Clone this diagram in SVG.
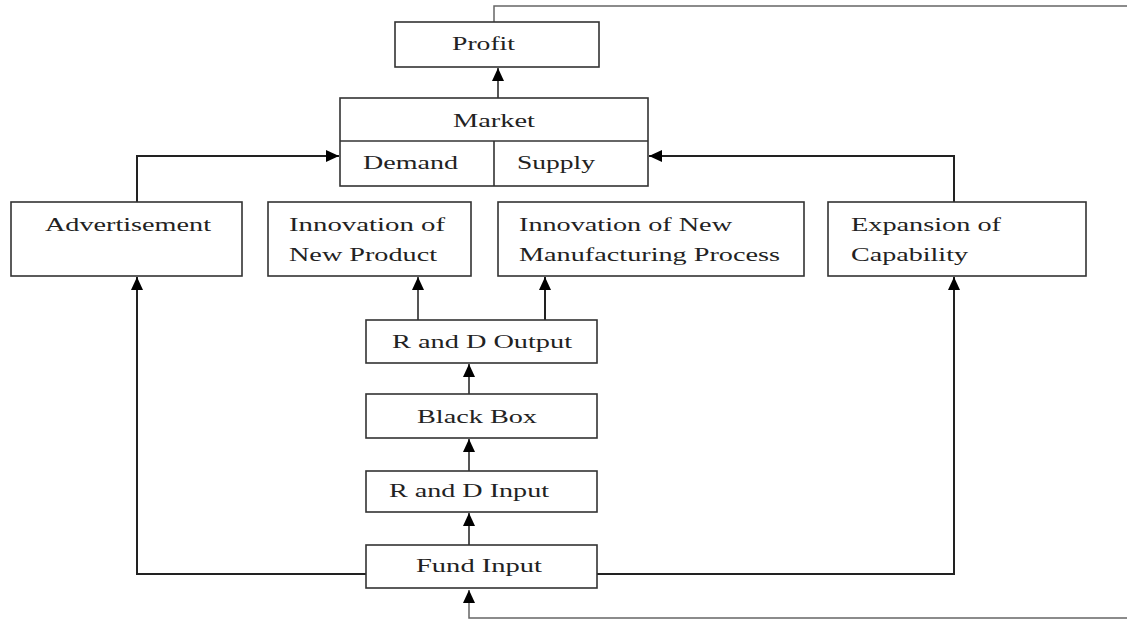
<svg xmlns="http://www.w3.org/2000/svg" width="1127" height="619" viewBox="0 0 1127 619">
<style>
.box{fill:#fff;stroke:#333;stroke-width:1.6}
.t{font-family:"Liberation Serif","Times New Roman",serif;font-size:18px;fill:#222}
.c{fill:none;stroke:#555;stroke-width:2}
.cd{fill:none;stroke:#222;stroke-width:2}
.fb{fill:none;stroke:#666;stroke-width:1.5}
</style>
<defs>
<marker id="ah" markerUnits="userSpaceOnUse" markerWidth="14" markerHeight="12" viewBox="0 0 14 12" refX="13" refY="6" orient="auto">
<path d="M0,0 L13,6 L0,12 Z" fill="#000"/>
</marker>
</defs>
<g id="connectors">
<path class="fb" d="M494,22 V6 H1128 V618 H469 V590" marker-end="url(#ah)"/>
<path class="c" d="M498,98 V68" marker-end="url(#ah)"/>
<path class="cd" d="M137,202 V156 H339" marker-end="url(#ah)"/>
<path class="cd" d="M954,202 V156 H649" marker-end="url(#ah)"/>
<path class="cd" d="M367,574 H137 V277" marker-end="url(#ah)"/>
<path class="cd" d="M597,574 H954 V277" marker-end="url(#ah)"/>
<path class="c" d="M469,545 V513" marker-end="url(#ah)"/>
<path class="c" d="M469,471 V439" marker-end="url(#ah)"/>
<path class="c" d="M469,394 V364" marker-end="url(#ah)"/>
<path class="c" d="M418,320 V277" marker-end="url(#ah)"/>
<path class="cd" d="M545,320 V277" marker-end="url(#ah)"/>
</g>
<g id="profit">
<rect class="box" x="395" y="22" width="204" height="45"/>
<text class="t" x="452" y="50" textLength="63" lengthAdjust="spacingAndGlyphs">Profit</text>
</g>
<g id="market">
<rect class="box" x="340" y="98" width="308" height="88"/>
<line x1="340" y1="141" x2="648" y2="141" stroke="#333" stroke-width="1.6"/>
<line x1="494" y1="141" x2="494" y2="186" stroke="#333" stroke-width="1.6"/>
<text class="t" x="453" y="127" textLength="82" lengthAdjust="spacingAndGlyphs">Market</text>
<text class="t" x="363" y="169" textLength="95" lengthAdjust="spacingAndGlyphs">Demand</text>
<text class="t" x="517" y="169" textLength="78" lengthAdjust="spacingAndGlyphs">Supply</text>
</g>
<g id="advertisement">
<rect class="box" x="11" y="202" width="231" height="74"/>
<text class="t" x="45" y="231" textLength="166" lengthAdjust="spacingAndGlyphs">Advertisement</text>
</g>
<g id="innovation-product">
<rect class="box" x="268" y="202" width="203" height="74"/>
<text class="t" x="289" y="231" textLength="156" lengthAdjust="spacingAndGlyphs">Innovation of</text>
<text class="t" x="289" y="261" textLength="148" lengthAdjust="spacingAndGlyphs">New Product</text>
</g>
<g id="innovation-process">
<rect class="box" x="498" y="202" width="306" height="74"/>
<text class="t" x="519" y="231" textLength="213" lengthAdjust="spacingAndGlyphs">Innovation of New</text>
<text class="t" x="519" y="261" textLength="261" lengthAdjust="spacingAndGlyphs">Manufacturing Process</text>
</g>
<g id="expansion">
<rect class="box" x="828" y="202" width="258" height="74"/>
<text class="t" x="851" y="231" textLength="150" lengthAdjust="spacingAndGlyphs">Expansion of</text>
<text class="t" x="851" y="261" textLength="117" lengthAdjust="spacingAndGlyphs">Capability</text>
</g>
<g id="rd-output">
<rect class="box" x="366" y="320" width="231" height="43"/>
<text class="t" x="392" y="348" textLength="180" lengthAdjust="spacingAndGlyphs">R and D Output</text>
</g>
<g id="black-box">
<rect class="box" x="366" y="394" width="231" height="44"/>
<text class="t" x="417" y="423" textLength="120" lengthAdjust="spacingAndGlyphs">Black Box</text>
</g>
<g id="rd-input">
<rect class="box" x="366" y="471" width="231" height="41"/>
<text class="t" x="389" y="497" textLength="160" lengthAdjust="spacingAndGlyphs">R and D Input</text>
</g>
<g id="fund-input">
<rect class="box" x="366" y="545" width="231" height="43"/>
<text class="t" x="416" y="572" textLength="126" lengthAdjust="spacingAndGlyphs">Fund Input</text>
</g>
</svg>
